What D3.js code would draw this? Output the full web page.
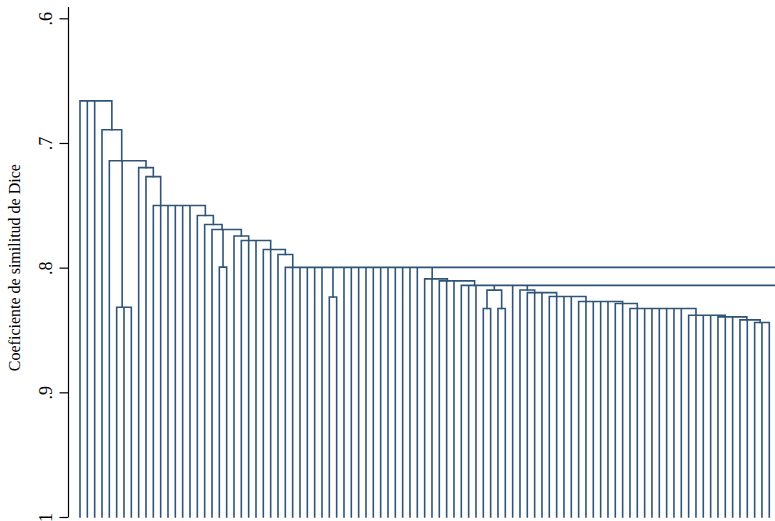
<!DOCTYPE html>
<html>
<head>
<meta charset="utf-8">
<script src="https://cdn.jsdelivr.net/npm/d3@7"></script>
<style>
  html, body { margin: 0; padding: 0; background: #ffffff; }
  svg { display: block; }
</style>
</head>
<body>
<svg id="chart" width="775" height="521"></svg>
<script>
// ---------------- data ----------------
const yTitle = "Coeficiente de similitud de Dice";
const yTicks = [0.6, 0.7, 0.8, 0.9, 1.0];
const yTickLabels = [".6", ".7", ".8", ".9", "1"];
const visibleLeafCount = 95;

// merge nodes: name, similarity height, children (number = that many leaves, string = node)
const nodeNames = ["R","N1","N2","box1","N3","N4","N5","N6","N7","N8","box2","N9","N10","N11","N12",
  "B0","boxB","C0","C1","C2","box4","boxa","boxb",
  "D0","D1","D2","D3","D4","D5","D6","D7","D8","D9"];
const nodeHeights = [0.6662,0.6894,0.7142,0.8318,0.7198,0.7270,0.7502,0.7582,0.7654,0.7694,0.7996,0.7746,0.7782,0.7854,0.7894,
  0.7998,0.8235,0.8090,0.8106,0.8142,0.8180,0.8328,0.8328,
  0.8179,0.8200,0.8232,0.8272,0.8288,0.8328,0.8382,0.8395,0.8419,0.8440];
const nodeKids = [
  [3,"N1"], [1,"N2"], [1,"box1","N3"], [3], [1,"N4"], [1,"N5"], [6,"N6"], [1,"N7"], [1,"N8"],
  [1,"box2","N9"], [2], [1,"N10"], [3,"N11"], [2,"N12"], [1,"B0"],
  [6,"boxB",11,"C0",1], [2], [2,"C1"], [3,"C2"], [3,"box4",1,"D0",1], ["boxa","boxb"], [2], [2],
  [1,"D1"], [3,"D2"], [4,"D3"], [5,"D4"], [2,"D5"], [8,"D6"], [4,"D7"], [3,"D8"], [2,"D9"], [3]
];

// ---------------- build tree ----------------
const idx = new Map(nodeNames.map((n, i) => [n, i]));
function build(name) {
  const i = idx.get(name);
  const node = { name, h: nodeHeights[i], children: [] };
  nodeKids[i].forEach(k => {
    if (typeof k === "number") {
      for (let j = 0; j < k; j++) node.children.push({ leaf: true, h: 1 });
    } else node.children.push(build(k));
  });
  return node;
}
const root = d3.hierarchy(build("R"));

const svg = d3.select("#chart");
const x = d3.scaleLinear().domain([0, visibleLeafCount - 1]).range([80, 769.3]);
const y = d3.scaleLinear().domain([0.6, 1]).range([18.3, 517]);

root.leaves().forEach((l, i) => { l.px = x(i); });
root.eachAfter(n => {
  if (n.children) {
    let v = n.children[n.children.length - 1].px;
    for (let j = n.children.length - 2; j >= 0; j--) v = (n.children[j].px + v) / 2;
    n.px = v;
  }
});

const color = "#2e5479";
const g = svg.append("g");
root.each(n => {
  if (!n.children) return;
  const yh = y(n.data.h);
  const xs = n.children.map(c => c.px);
  let d = `M${d3.min(xs)},${yh}H${d3.max(xs)}`;
  n.children.forEach(c => { d += `M${c.px},${yh}V${y(c.data.h)}`; });
  g.append("path").attr("d", d)
    .attr("fill", "none").attr("stroke", color)
    .attr("stroke-width", 1.6).attr("stroke-linecap", "square");
});

// ---------------- axis ----------------
const axis = d3.axisLeft(y).tickValues(yTicks)
  .tickFormat((d, i) => yTickLabels[i]).tickSize(9).tickSizeOuter(0);
const ax = svg.append("g").attr("transform", "translate(68.5,0)").call(axis);
ax.select(".domain").attr("d", `M0,7V${y(1)}`).attr("stroke", "#000").attr("stroke-width", 1.2);
ax.selectAll(".tick line").attr("stroke", "#000").attr("stroke-width", 1.2);
ax.selectAll(".tick text")
  .attr("x", null).attr("dy", null)
  .attr("transform", "translate(-17,0) rotate(-90)")
  .attr("text-anchor", "middle")
  .attr("font-family", "'Liberation Serif', 'Times New Roman', serif")
  .attr("font-size", 18).attr("fill", "#000");

svg.append("text")
  .attr("transform", `translate(20,${(y(0.6) + y(1)) / 2}) rotate(-90)`)
  .attr("text-anchor", "middle")
  .attr("font-family", "'Liberation Serif', 'Times New Roman', serif")
  .attr("font-size", 16).attr("fill", "#000")
  .text(yTitle);
</script>
</body>
</html>
